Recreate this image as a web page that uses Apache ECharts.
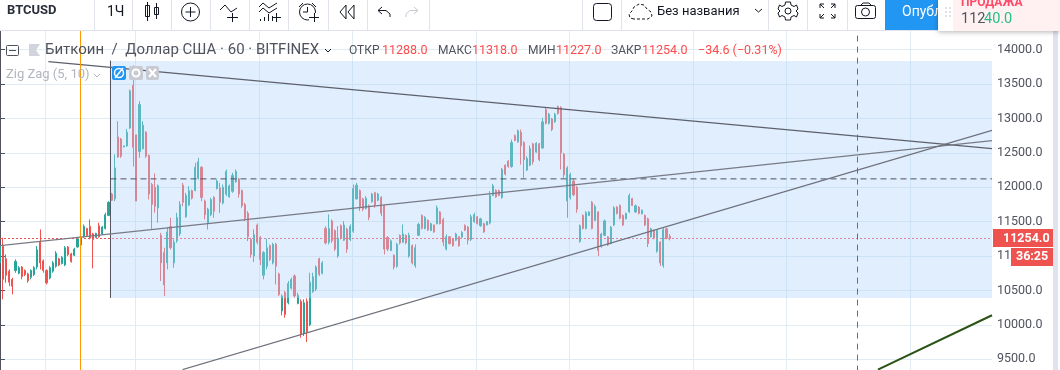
<!DOCTYPE html>
<html><head><meta charset="utf-8">
<style>html,body{margin:0;padding:0;background:#fff}#c{width:1060px;height:370px}</style>
<script src="https://cdn.jsdelivr.net/npm/echarts@6/dist/echarts.min.js"></script>
</head><body><div id="c"></div>
<script>
const opens=[10900,11140,10960,10780,10660,10790,10750,10840,10790,10740,
10690,10730,10840,11200,10930,10790,10680,10780,10850,10960,
10890,10870,11130,11030,11010,11130,11160,11280,11400,11430,
11320,11270,11440,11320,11400,11590,11900,11830,12730,12700,
12585,12600,12860,13480,12760,12520,12560,12800,12460,12040,
12000,11700,11300,11050,10900,11430,10900,11220,11320,12030,
11570,11740,11950,11950,12130,12290,11800,11480,11600,11850,
11980,11990,11770,11900,11860,11940,12080,12120,11950,11750,
11620,11240,11000,11450,11270,10720,10850,11150,10900,11170,
10740,10200,10470,10320,10530,10710,10310,10340,9880,10340,
10000,10480,10520,10960,10750,11400,11200,11510,11370,11000,
11440,11230,11390,11240,11360,11830,11950,11830,11690,11730,
11790,11920,11810,11850,11730,11270,11080,11010,10850,11300,
11200,11300,11000,11150,10860,11300,11590,11400,11520,11370,
11450,11470,11640,11530,11100,11280,11250,11230,11280,11275,
11445,11420,11240,11500,11570,11440,11470,11450,11480,11880,
11955,11950,11850,12320,12380,12300,12750,12660,12800,12650,
12250,12320,12630,12510,12630,12570,13130,12930,12990,12950,
13170,13160,12480,11800,11850,12090,12000,11210,11590,11400,
11590,11780,11520,11640,11140,11300,11280,11180,11450,11710,
11735,11590,11540,11640,11835,11640,11710,11615,11590,11540,
11280,11370,11070,11200,10860,11395,11288];
const closes=[11150,10660,10720,10620,10560,10920,10830,10700,10730,10640,
10790,10830,11090,10900,10790,10610,10830,10900,11040,10870,
10980,11120,11020,10920,11100,11250,11270,11430,11300,11260,
11240,11330,11280,11420,11600,11780,11810,12280,12440,12450,
12600,12800,13400,12580,11800,13200,12900,12450,11900,11750,
11720,12020,10900,10580,11350,11120,11200,11560,11750,11780,
11880,11950,11840,12290,12370,11850,11600,11680,11820,11650,
12090,11780,12000,12230,12020,12170,12230,11900,11730,11550,
11280,11020,11310,11200,10950,11050,11120,10950,11170,10850,
10440,10420,10150,10600,10660,10420,10430,9870,10320,9900,
10620,10700,10840,10730,10900,11190,11400,11220,11100,11260,
11260,11450,11100,11430,11980,12030,11700,11680,11840,11560,
11900,11740,11900,11620,11100,11100,11220,10840,11170,11190,
11320,11190,11300,10900,11120,11460,11400,11560,11380,11470,
11350,11700,11470,11200,11280,11180,11150,11320,11150,11340,
11375,11230,11570,11600,11470,11540,11350,11500,11880,12020,
11860,11880,12260,12190,12300,12650,12680,12820,12600,12400,
12420,12560,12370,12640,12400,12950,12930,13060,12840,13060,
13070,12500,12180,12280,12180,11890,11680,11440,11400,11630,
11640,11400,11720,11080,11320,11510,11160,11420,11700,11620,
11550,11450,11620,11880,11735,11730,11620,11665,11450,11180,
11395,11260,11370,10900,11380,11260,11254];
const lows=[10853,10369,10611,10563,10442,10757,10733,10660,10708,10611,
10660,10708,10805,10805,10757,10587,10660,10757,10829,10853,
10878,10853,10999,10902,10999,11120,11144,11265,11289,11241,
10820,11265,11265,11313,11386,11579,11797,11797,12426,12426,
12580,12586,12847,12300,11797,12426,12547,12426,11821,11395,
11628,11483,10636,10418,10805,11095,10829,11192,11289,11725,
11555,11725,11821,11942,12112,11797,11531,11386,11579,11555,
11967,11628,11749,11870,11846,11918,12063,11846,11701,11507,
11217,10975,10912,11168,10868,10660,10805,10926,10878,10587,
10418,10137,10103,10297,10515,10394,10297,9813,9837,9750,
9982,10466,10491,10708,10733,11168,11168,11192,11071,10975,
11241,11217,11047,11217,11338,11822,11652,11652,11676,11521,
11773,11701,11797,11580,11023,11071,11071,10805,10829,11168,
11192,11168,10975,10878,10829,11289,11386,11386,11362,11362,
11338,11459,11459,11144,11081,11168,11135,11217,11135,11265,
11362,11168,11217,11483,11459,11425,11338,11444,11459,11870,
11846,11870,11832,12170,12282,12282,12669,12645,12330,12136,
12233,12306,12330,12499,12378,12557,12911,12911,12814,12935,
13056,12257,12136,11556,11822,11870,11628,11193,11386,11386,
11580,11386,11507,10999,11120,11289,11144,11168,11435,11604,
11531,11435,11531,11628,11725,11628,11604,11604,11435,11130,
11265,11241,11047,10854,10830,11241,11227];
const highs=[11265,11265,11023,10805,10684,10950,10853,10853,10805,10757,
10805,10853,11144,11386,10950,10805,10853,10926,11071,10974,
10999,11144,11144,11047,11120,11265,11289,11458,11410,11531,
11337,11337,11483,11434,11628,11797,11918,12475,12959,12717,
12605,12847,13419,13770,12765,13249,12959,12814,12475,12063,
12199,12039,11337,11120,11410,11555,11241,11628,11797,12063,
11918,12015,11967,12354,12426,12305,11821,11700,11845,11870,
12112,12063,12039,12257,12039,12209,12257,12136,11967,11773,
11652,11265,11386,11473,11289,11071,11250,11168,11192,11192,
10757,10442,10491,10636,10684,10733,10466,10370,10370,10384,
10757,10757,10863,10975,10926,11434,11604,11531,11386,11434,
11459,11507,11410,11459,12039,12063,11967,11846,11870,11749,
11918,11933,11918,11870,11749,11289,11241,11023,11192,11313,
11459,11313,11338,11168,11168,11483,11604,11580,11531,11483,
11459,11734,11652,11556,11313,11289,11265,11338,11289,11362,
11459,11435,11604,11628,11580,11556,11483,11507,11943,12049,
11967,11967,12282,12330,12393,12693,12766,12838,12838,12669,
12451,12606,12645,12654,12645,13008,13153,13080,13008,13080,
13187,13177,12499,12306,12209,12112,12015,11459,11604,11652,
11652,11798,11749,11652,11338,11531,11289,11435,11725,11725,
11749,11604,11628,11909,11846,11749,11725,11677,11604,11556,
11410,11386,11386,11217,11410,11410,11318];

const dayGridBars=[14.5,43.5,83.5,113.5,153.5,183.5,223.5,253.5,293.5];
const lastPrice=11254, resistanceLevel=12121;
const trendTop=[[15.6,13826],[320,12562]];
const trendMiddle=[[0,11152],[320,12678]];
const trendBottom=[[58.9,9349],[320,12827]];
const trendGreen=[[283.2,9349],[320,10139]];
const zoneEdge=[[35.64,13840],[35.64,10391]];
const zoneBars=[35.64,320], zonePrices=[13833,10391];
const orangeBar=25.97, dashedBar=276.6;

const T='#131722', G='#50535e', LG='#b2b5be', RED='#ff4a68', LINE='#e0e3eb', F='Roboto, sans-serif';
const txt=(text,x,y,fill,font,extra)=>({type:'text',z:100,silent:true,style:Object.assign({text,x,y,fill,font:font||('12px '+F),textVerticalAlign:'middle'},extra||{})});
const rect=(x,y,w,h,fill,r,extra)=>({type:'rect',z:99,silent:true,shape:{x,y,width:w,height:h,r:r||0},style:Object.assign({fill},extra||{})});
const ln=(x1,y1,x2,y2,c,w,z)=>({type:'line',z:z||100,silent:true,shape:{x1,y1,x2,y2},style:{stroke:c||T,lineWidth:w||1}});
const poly=(pts,c,w,z,fill,dash)=>({type:'polyline',z:z||100,silent:true,shape:{points:pts},style:{stroke:c||T,lineWidth:w||1,fill:fill||null,lineDash:dash||null}});
const circ=(cx,cy,r,c,w,fill)=>({type:'circle',z:100,silent:true,shape:{cx,cy,r},style:{stroke:c||T,lineWidth:w||1,fill:fill||null}});
const bx=(x,y,w,h,c,r,dash)=>({...rect(x,y,w,h,'none',r,{stroke:c||T,lineWidth:1,lineDash:dash||null}),z:100});

const chrome=[
 rect(0,0,1060,30,'#fff'),
 ln(0,30.5,1060,30.5,LINE),
 ...[94.5,132.5,171.5,210.5,249.5,288.5,328.5,367.5,429.5,582.5,621.5,768.5,807.5,847.5].map(x=>ln(x,0,x,30,LINE)),
 txt('BTCUSD',7,11,'#2a2e39','bold 13px '+F),
 txt('1Ч',107,12,T,'14px '+F),
 ln(147.5,2,147.5,21), bx(145.5,5.5,4,11,T),
 ln(156.5,3,156.5,19), bx(154.5,7.5,4,7,T),
 circ(190.5,12,9),ln(190.5,7,190.5,17),ln(185.5,12,195.5,12),
 poly([[220,10],[225,5],[231,12],[237,8]]),ln(232.5,13,232.5,22),ln(227,17.5,238,17.5),
 poly([[259,7],[263,3],[269,8],[277,3]]),poly([[259,12],[263,8],[269,13],[277,8]]),
 ln(260.5,19,260.5,21),ln(264.5,17,264.5,21),ln(268.5,14,268.5,21),ln(272.5,16,272.5,21),ln(276.5,13,276.5,22),ln(272,17.5,281,17.5),
 circ(307.5,12,8),ln(307.5,7,307.5,12),ln(303,12,307.5,12),poly([[299,7],[303,3]]),poly([[312,3],[316,7]]),
 {...rect(309,13,10,10,'#fff'),z:100},ln(314.5,13,314.5,22,T,1,101),ln(309,17.5,319,17.5,T,1,101),
 poly([[346,5],[340,12],[346,19],[346,5]]),poly([[354,5],[348,12],[354,19],[354,5]]),
 poly([[382,7],[378,10.5],[382,14]]),poly([[378,10.5],[386,10.5],[390,14],[390,17]]),
 poly([[414,7],[418,10.5],[414,14]],'#c8cad2'),poly([[418,10.5],[410,10.5],[406,14],[406,17]],'#c8cad2'),
 bx(593.5,3.5,18,17,T,3),
 poly([[634,19],[630,18],[629,14],[632,11],[634,7],[639,4],[644,5],[647,9],[651,12],[652,16],[648,19],[634,19]],T,1,100,null,[3,2]),
 txt('Без названия',657,12,T,'13px '+F,{letterSpacing:0.4}),
 poly([[755,9],[758.5,12],[762,9]]),
 // gear: toothed outline and hub
 poly([[785.5,2],[790.5,2],[791,5],[794,6.5],[796.5,5],[798,9],[796,11],[798,13],[796.5,17],[794,15.5],[791,17],[790.5,20],[785.5,20],[785,17],[782,15.5],[779.5,17],[778,13],[780,11],[778,9],[779.5,5],[782,6.5],[785,5],[785.5,2]]),
 circ(788,11,3),
 poly([[820,8],[820,4],[824,4]]),poly([[831,4],[835,4],[835,8]]),poly([[820,14],[820,18],[824,18]]),poly([[831,18],[835,18],[835,14]]),
 ln(820,4,824,8),ln(835,4,831,8),ln(820,18,824,14),ln(835,18,831,14),
 bx(855.5,5.5,20,13,T,2),circ(865.5,12,4),ln(861,5,863,3),ln(863,3,869,3),ln(869,3,871,5),
 rect(885,0,60,30,'#2196f3'),
 txt('Опубл',902,12,'#fff','14px '+F),
 {...rect(938,0,122,31,'#fff',0,{shadowBlur:5,shadowColor:'rgba(0,0,0,0.3)',shadowOffsetY:1}),z:100},
 {...rect(953,0,107,31,'#fff0f1'),z:101},
 ...[[945,7],[949,7],[945,11],[949,11],[945,15],[949,15]].map(p=>({...rect(p[0],p[1],2,2,'#dfe1e6'),z:101})),
 {...txt('ПРОДАЖА',961,3,RED,'bold 12px '+F),z:102},
 {...txt('112',961,19,'#50535e','14.5px '+F),z:102},
 {...txt('40.0',984,19,'#26bd8c','14.5px '+F),z:102},

 bx(6.5,45.5,12,10,G,1),ln(9,50.5,16,50.5,G),
 {type:'polygon',z:100,silent:true,shape:{points:[[29,44],[40,44],[36,50],[40,56],[29,56]]},style:{fill:'#d1d4dc'}},
 txt('Биткоин  /  Доллар США · 60 · BITFINEX',45,50.5,G,'15px '+F),
 poly([[325,49],[328,52],[331,49]],T),
 txt('ОТКР',349,50.5,G,'12px '+F),txt('11288.0',382,50.5,'#ff4a4a','12.5px '+F),
 txt('МАКС',438,50.5,G,'12px '+F),txt('11318.0',472,50.5,'#ff4a4a','12.5px '+F),
 txt('МИН',528,50.5,G,'12px '+F),txt('11227.0',556,50.5,'#ff4a4a','12.5px '+F),
 txt('ЗАКР',611,50.5,G,'12px '+F),txt('11254.0',642,50.5,'#ff4a4a','12.5px '+F),
 txt('−34.6 (−0.31%)',698,50.5,'#ff4a4a','12.5px '+F),
 txt('Zig Zag (5, 10)',6,75,LG,'13px '+F),
 poly([[94,74],[97,77],[100,74]],LG),
 rect(112,66,14,14,'#2196f3',2),circ(119,73,4.5,'#fff',1.5),ln(115,78,123,68,'#fff',1.5),
 rect(129,66,14,14,'#c8cad2',2),circ(136,73,3.5,'#fff',2),
 rect(146,66,13,14,'#c8cad2',2),ln(149,69,156,77,'#fff',2),ln(156,69,149,77,'#fff',2),
 {...rect(1053,31,5,339,'#e0e3eb'),z:98},
 rect(993,229,60,18,'#ef5350'),
 txt('11254.0',1003,238.5,'#fff','bold 12.5px '+F),
 rect(1011,248,42,18,'#ef5350'),
 txt('36:25',1016,257,'#fff','bold 12.5px '+F)
];

const thin=(name,data,color,width,z,type)=>({name,type:'line',data,symbol:'none',silent:true,z,lineStyle:{color,width,type:type||'solid'},animation:false});
const chart=echarts.init(document.getElementById('c'),null,{renderer:'canvas'});
chart.setOption({
 animation:false,
 backgroundColor:'#fff',
 grid:{left:0,top:15.2,width:992,height:378.4,outerBoundsMode:'none',containLabel:false},
 xAxis:{type:'value',min:0,max:320,axisLine:{show:false},axisTick:{show:false},axisLabel:{show:false},splitLine:{show:false}},
 yAxis:{type:'value',position:'right',min:9000,max:14500,interval:500,
  axisLine:{show:true,lineStyle:{color:'#50535e'}},
  axisTick:{show:true,length:5,lineStyle:{color:'#50535e'}},
  axisLabel:{color:'#50535e',fontSize:12.5,fontFamily:'Roboto',margin:5,align:'left',formatter:v=>v.toFixed(1)},
  splitLine:{show:true,lineStyle:{color:'#e1ecf2'}}},
 series:[
  {name:'grid',type:'line',data:[],silent:true,markLine:{z:1,silent:true,symbol:'none',label:{show:false},lineStyle:{color:'#e1ecf2',width:1,type:'solid'},data:dayGridBars.map(x=>({xAxis:x}))}},
  {name:'BTCUSD',type:'candlestick',z:2,silent:true,barWidth:1.6,
   data:opens.map((o,i)=>[i,o,closes[i],lows[i],highs[i]]),
   encode:{x:0,y:[1,2,3,4]},
   itemStyle:{color:'#26a69a',color0:'#ef5350',borderColor:'#26a69a',borderColor0:'#ef5350',borderWidth:1}},
  {name:'last',type:'line',data:[],silent:true,markLine:{z:3,silent:true,symbol:'none',label:{show:false},lineStyle:{color:'#ef5350',width:1,type:[2,2]},data:[{yAxis:lastPrice}]}},
  {name:'zone',type:'line',data:[],silent:true,markArea:{z:4,silent:true,itemStyle:{color:'rgba(177,212,252,0.4)'},data:[[{xAxis:zoneBars[0],yAxis:zonePrices[0]},{xAxis:zoneBars[1],yAxis:zonePrices[1]}]]}},
  thin('zoneEdge',zoneEdge,'#50535e',1,5),
  thin('resistance',[[zoneBars[0],resistanceLevel],[320,resistanceLevel]],'#50535e',1,5,[6,4]),
  thin('top',trendTop,'#5d606b',1.2,5),
  thin('middle',trendMiddle,'#787b86',1.2,5),
  thin('bottom',trendBottom,'#6f727c',1.2,5),
  thin('green',trendGreen,'#2b5215',2,5),
  {name:'marks',type:'line',data:[],silent:true,markLine:{z:6,silent:true,symbol:'none',label:{show:false},data:[
    {xAxis:orangeBar,lineStyle:{color:'#ff9800',width:1,type:'solid'}},
    {xAxis:dashedBar,lineStyle:{color:'#6a6d78',width:1,type:[6,5]}}]}}
 ],
 graphic:{elements:chrome}
});
</script></body></html>
